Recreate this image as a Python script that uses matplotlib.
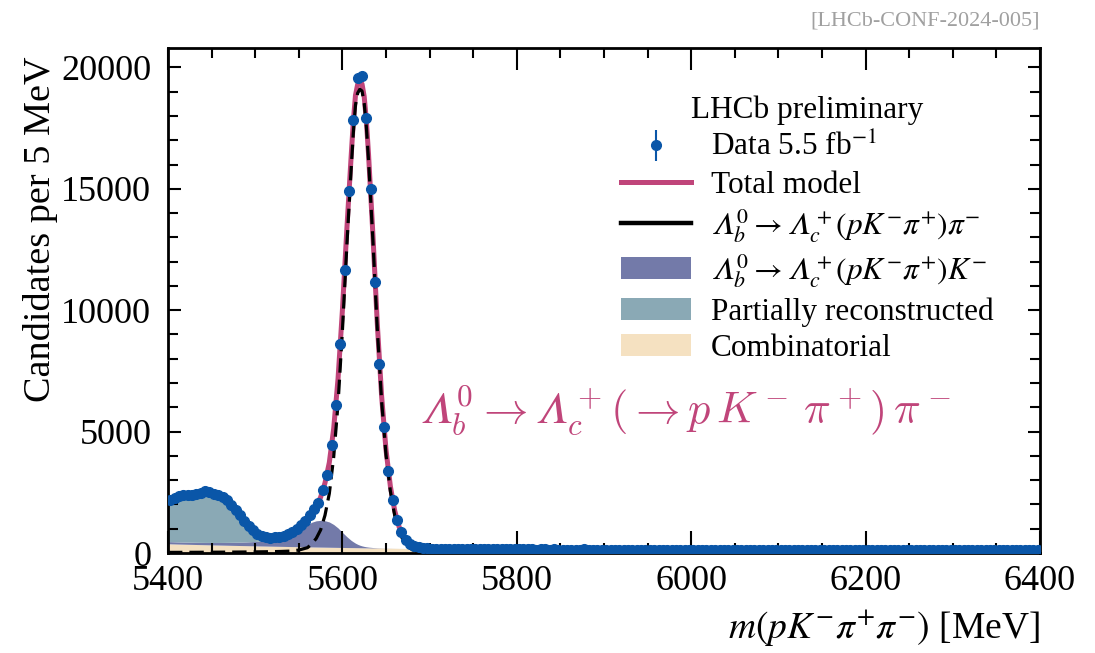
import numpy as np
import matplotlib
matplotlib.use("Agg")
import matplotlib.pyplot as plt
from matplotlib.lines import Line2D
from matplotlib.ticker import MultipleLocator

plt.rcParams.update({
    "font.family": "serif",
    "font.serif": ["Liberation Serif", "DejaVu Serif"],
    "mathtext.fontset": "stix",
    "font.size": 20,
    "axes.linewidth": 2.0,
    "xtick.direction": "in",
    "ytick.direction": "in",
    "xtick.top": True,
    "ytick.right": True,
    "xtick.minor.visible": True,
    "ytick.minor.visible": True,
    "xtick.major.size": 16,
    "xtick.minor.size": 7.5,
    "ytick.major.size": 9,
    "ytick.minor.size": 7,
    "xtick.major.width": 1.5,
    "xtick.minor.width": 1.5,
    "ytick.major.width": 1.5,
    "ytick.minor.width": 1.5,
    "xtick.labelsize": 26,
    "ytick.labelsize": 26,
})

COLORS = {
    "data": "#0a56a8",
    "total": "#c0457a",
    "signal": "black",
    "kmode": "#737aa9",
    "partreco": "#8aa9b5",
    "comb": "#f5e1c1",
}

# data: 5 MeV bins, centres 5402.5 ... 6397.5
data_counts = [
    # 5402.5 - 5447.5
    2190, 2280, 2350, 2380, 2400, 2390, 2430, 2490, 2560, 2500,
    # 5452.5 - 5497.5
    2420, 2370, 2290, 2170, 1990, 1780, 1560, 1330, 1120, 930,
    # 5502.5 - 5547.5
    790, 690, 640, 620, 640, 670, 720, 790, 880, 1000,
    # 5552.5 - 5597.5
    1150, 1330, 1560, 1800, 2050, 2610, 3230, 4450, 6100, 8600,
    # 5602.5 - 5647.5
    11650, 14900, 17850, 19560, 19630, 17900, 15000, 11150, 7800, 5200,
    # 5652.5 - 5697.5
    3380, 2200, 1360, 860, 540, 380, 290, 240, 205, 190,
    # 5702.5 - 6397.5
    182, 176, 171, 178, 169, 173, 166, 170, 162, 167,
    160, 165, 158, 155, 162, 151, 157, 149, 154, 150,
    148, 153, 146, 150, 143, 149, 145, 140, 146, 142,
    144, 139, 143, 137, 141, 145, 136, 140, 138, 134,
    139, 135, 141, 133, 137, 131, 136, 134, 130, 135,
    132, 128, 134, 130, 127, 133, 129, 126, 131, 128,
    130, 125, 128, 131, 124, 127, 129, 123, 126, 128,
    122, 127, 125, 121, 126, 123, 120, 125, 122, 124,
    121, 125, 119, 123, 120, 118, 124, 120, 117, 122,
    119, 116, 121, 118, 115, 120, 117, 119, 114, 118,
    116, 120, 113, 117, 115, 118, 112, 116, 114, 111,
    115, 112, 117, 110, 114, 112, 116, 109, 113, 111,
    110, 114, 108, 112, 111, 107, 113, 109, 111, 106,
    110, 108, 112, 105, 109, 107, 111, 104, 108, 106,
]
data_mass = np.arange(5402.5, 6400, 5.0)

# fit components (counts per 5 MeV) on a model grid
model_mass = [
    5400, 5410, 5420, 5430, 5440, 5450, 5460, 5470, 5480, 5490,
    5500, 5510, 5520, 5530, 5540, 5550, 5560, 5565, 5570, 5575,
    5580, 5585, 5590, 5595, 5600, 5605, 5610, 5612.5, 5615, 5617.5,
    5620, 5622.5, 5625, 5627.5, 5630, 5635, 5640, 5645, 5650, 5655,
    5660, 5665, 5670, 5675, 5680, 5690, 5700, 5725, 5750, 5800,
    5900, 6000, 6100, 6200, 6300, 6400,
]
comb = [
    380, 370, 361, 352, 343, 334, 326, 318, 310, 302,
    294, 287, 280, 273, 266, 259, 252, 249, 246, 243,
    240, 237, 234, 231, 228, 225, 222, 221, 219, 218,
    216, 215, 213, 212, 211, 208, 205, 203, 200, 198,
    195, 193, 191, 189, 187, 183, 179, 171, 164, 152,
    140, 131, 125, 120, 116, 112,
]
kmode = [
    90, 88, 88, 90, 94, 100, 108, 120, 135, 155,
    180, 215, 260, 350, 480, 680, 920, 1020, 1080, 1100,
    1090, 1040, 940, 800, 620, 450, 300, 240, 185, 140,
    105, 78, 58, 42, 31, 17, 9, 5, 3, 2,
    1, 0, 0, 0, 0, 0, 0, 0, 0, 0,
    0, 0, 0, 0, 0, 0,
]
partreco = [
    1705, 1846, 1914, 1960, 2023, 1984, 1852, 1606, 1186, 726,
    340, 113, 30, 0, 0, 0, 0, 0, 0, 0,
    0, 0, 0, 0, 0, 0, 0, 0, 0, 0,
    0, 0, 0, 0, 0, 0, 0, 0, 0, 0,
    0, 0, 0, 0, 0, 0, 0, 0, 0, 0,
    0, 0, 0, 0, 0, 0,
]
signal = [
    25, 26, 27, 28, 30, 32, 34, 36, 39, 42,
    46, 50, 56, 64, 78, 120, 220, 380, 600, 950,
    1550, 2450, 3950, 6150, 9150, 12600, 15800, 17300, 18450, 18942,
    19099, 19027, 18529, 17546, 16158, 12875, 9236, 6242, 4047, 2550,
    1544, 887, 499, 266, 138, 32, 9, 1, 0, 0,
    0, 0, 0, 0, 0, 0,
]

LAM = "\U0001D6EC"  # mathematical italic capital lambda
lab_pi = rf"${LAM}_b^0 \rightarrow {LAM}_c^+(pK^{{-}}\pi^{{+}})\pi^{{-}}$"
lab_k = rf"${LAM}_b^0 \rightarrow {LAM}_c^+(pK^{{-}}\pi^{{+}})K^{{-}}$"

x = np.array(model_mass)
c = np.array(comb, dtype=float)
k = np.array(kmode, dtype=float)
pr = np.array(partreco, dtype=float)
s = np.array(signal, dtype=float)
y = np.array(data_counts, dtype=float)

fig = plt.figure(figsize=(10.95, 6.53), dpi=100)
ax = fig.add_axes([168 / 1095, 1 - 553 / 653, 872 / 1095, 505 / 653])

h_comb = ax.fill_between(x, 0, c, color=COLORS["comb"], lw=0, zorder=1)
h_k = ax.fill_between(x, c, c + k, color=COLORS["kmode"], lw=0, zorder=1)
h_pr = ax.fill_between(x, c + k, c + k + pr, color=COLORS["partreco"], lw=0, zorder=1)
h_tot, = ax.plot(x, c + k + pr + s, color=COLORS["total"], lw=3.6, zorder=2)
ax.plot(x, s, color=COLORS["signal"], lw=2.3, ls=(0, (4.5, 2.2)), zorder=3)
h_data = ax.errorbar(data_mass, y, yerr=np.sqrt(y), fmt="o", color=COLORS["data"], ms=7,
                     elinewidth=1.5, capsize=0, zorder=4)
h_sig = Line2D([], [], color=COLORS["signal"], lw=3.2)

ax.set_xlim(5400, 6400)
ax.set_ylim(0, 20800)
ax.xaxis.set_major_locator(MultipleLocator(200))
ax.xaxis.set_minor_locator(MultipleLocator(50))
ax.yaxis.set_major_locator(MultipleLocator(5000))
ax.yaxis.set_minor_locator(MultipleLocator(1000))
ax.tick_params(axis="x", which="both", pad=9)
ax.tick_params(axis="y", which="both", pad=12)

ax.set_xlabel(r"$m(pK^{-}\pi^{+}\pi^{-})$ [MeV]", fontsize=27, loc="right", labelpad=6)
ax.set_ylabel("Candidates per 5 MeV", fontsize=27.5, loc="top")
ax.yaxis.set_label_coords(-0.126, 0.984)

leg = ax.legend([h_data, h_tot, h_sig, h_k, h_pr, h_comb],
                [r"Data 5.5 fb$^{-1}$", "Total model", lab_pi, lab_k,
                 "Partially reconstructed", "Combinatorial"],
                title="LHCb preliminary", loc="upper right",
                bbox_to_anchor=(0.947, 0.905), frameon=False, fontsize=22.5,
                title_fontsize=22.5, handlelength=2.25, labelspacing=0.24,
                handletextpad=0.65, borderpad=0.0, borderaxespad=0.0)

ax.text(0.593, 0.283,
        rf"${LAM}_b^0 \rightarrow {LAM}_c^+(\rightarrow p\,K^-\,\pi^+)\,\pi^-$",
        transform=ax.transAxes, ha="center", va="center", fontsize=32,
        color=COLORS["total"], math_fontfamily="cm")

fig.text(1040 / 1095, 1 - 21 / 653, "[LHCb-CONF-2024-005]", ha="right", va="center",
         fontsize=16, color="#a0a0a0")

fig.savefig("out.png", dpi=100)
